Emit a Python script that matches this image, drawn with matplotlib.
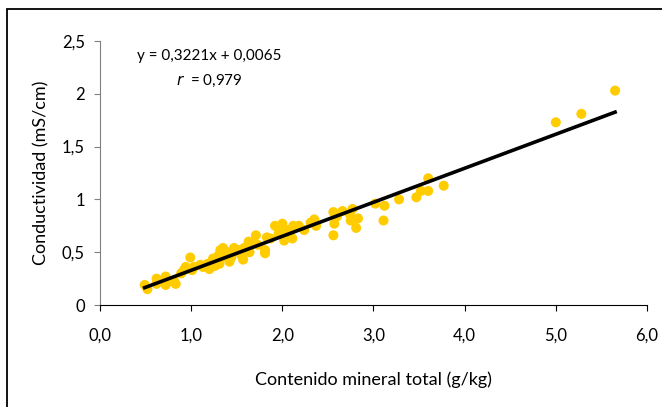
import numpy as np
import matplotlib.pyplot as plt
from matplotlib.patches import Rectangle
from matplotlib.ticker import FuncFormatter

# Datos: contenido mineral total (g/kg) frente a conductividad (mS/cm)
mineral = [0.49, 0.52, 0.62, 0.62, 0.72, 0.72, 0.81, 0.83, 0.89, 0.94,
           0.99, 1.03, 1.01, 1.13, 1.18, 1.20, 1.24, 1.26, 1.31, 1.32,
           1.35, 1.37, 1.42, 1.45, 1.47, 1.57, 1.58, 1.63, 1.64, 1.71,
           1.73, 1.81, 1.81, 1.83, 1.87, 1.92, 1.96, 2.00, 2.02, 2.06,
           2.11, 2.12, 2.18, 2.24, 2.31, 2.35, 2.37, 2.56, 2.56, 2.57,
           2.66, 2.75, 2.77, 2.81, 2.83, 3.02, 3.12, 3.11, 3.28, 3.47,
           3.52, 3.60, 3.60, 3.77, 5.00, 5.28, 5.65,
           1.16, 1.28, 1.30, 1.40, 1.44, 1.52, 1.55, 1.67, 1.98, 2.08,
           0.75, 0.92, 1.10, 1.36, 1.49, 2.60, 2.74]
conductividad = [0.19, 0.15, 0.25, 0.20, 0.27, 0.19, 0.23, 0.20, 0.30, 0.36,
                 0.45, 0.36, 0.33, 0.36, 0.39, 0.34, 0.44, 0.37, 0.39, 0.52,
                 0.54, 0.46, 0.41, 0.49, 0.54, 0.43, 0.54, 0.60, 0.50, 0.66,
                 0.57, 0.52, 0.49, 0.64, 0.63, 0.75, 0.68, 0.77, 0.61, 0.71,
                 0.63, 0.75, 0.75, 0.71, 0.78, 0.81, 0.75, 0.88, 0.66, 0.77,
                 0.89, 0.80, 0.91, 0.73, 0.82, 0.96, 0.94, 0.80, 1.00, 1.02,
                 1.08, 1.20, 1.08, 1.13, 1.73, 1.81, 2.03,
                 0.37, 0.42, 0.47, 0.50, 0.45, 0.52, 0.47, 0.58, 0.72, 0.68,
                 0.22, 0.33, 0.38, 0.49, 0.51, 0.84, 0.86]

pendiente = 0.3221
intercepto = 0.0065
r_valor = 0.979

fig = plt.figure(figsize=(6.62, 4.07), dpi=100)
plt.rcParams['font.family'] = ['Lato', 'DejaVu Sans']
ax = fig.add_axes([100 / 662, 1 - 305 / 407, 547 / 662, 264 / 407])

ax.scatter(mineral, conductividad, s=52, color='#FFCC00', edgecolors='none', zorder=2)

xs = np.array([min(mineral), max(mineral)])
ax.plot(xs, pendiente * xs + intercepto, color='black', lw=2.6, zorder=3)

ax.set_xlim(0, 6)
ax.set_ylim(0, 2.5)
ax.set_xticks(np.arange(0, 7, 1))
ax.set_yticks(np.arange(0, 3, 0.5))
ax.xaxis.set_major_formatter(FuncFormatter(lambda v, p: f"{v:.1f}".replace('.', ',')))
ax.yaxis.set_major_formatter(FuncFormatter(lambda v, p: f"{v:g}".replace('.', ',')))

for s in ['top', 'right']:
    ax.spines[s].set_visible(False)
ax.spines['left'].set_color('#808080')
ax.spines['bottom'].set_color('black')
ax.tick_params(axis='x', direction='out', length=4, pad=12, labelsize=12, colors='black')
ax.tick_params(axis='y', direction='out', length=4, pad=7, labelsize=12, colors='black')
ax.tick_params(axis='y', color='#808080')

ax.set_xlabel('Contenido mineral total (g/kg)', fontsize=13, labelpad=20)
ax.set_ylabel('Conductividad (mS/cm)', fontsize=13, labelpad=9)

fig.text(137 / 662, 1 - 56 / 407, f"y = {pendiente:.4f}x + {intercepto:.4f}".replace('.', ','),
         fontsize=11, va='center', ha='left')
fig.text(176 / 662, 1 - 81 / 407, r"$\it{r}$" + f"  = {r_valor:.3f}".replace('.', ','),
         fontsize=11, va='center', ha='left')

# Marco exterior del gráfico
fig.add_artist(Rectangle((7 / 662, -0.05), 1.0, 1 - 9 / 407 + 0.05,
                         transform=fig.transFigure, fill=False,
                         edgecolor='black', lw=1.3, clip_on=False))

fig.savefig('out.png', dpi=100)
